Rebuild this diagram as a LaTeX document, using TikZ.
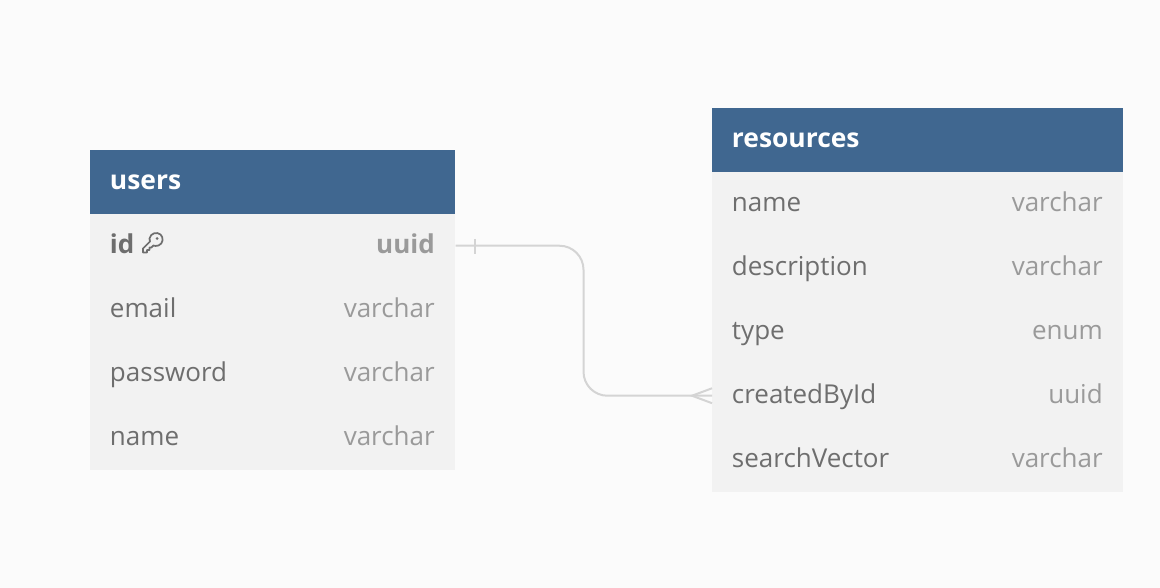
\documentclass[tikz,border=0pt]{standalone}
\usepackage{fontspec}
\setmainfont{Open Sans}
\definecolor{bgc}{HTML}{FBFBFB}
\definecolor{rowc}{HTML}{F2F2F2}
\definecolor{headc}{HTML}{406790}
\definecolor{namec}{HTML}{6E6E6E}
\definecolor{typec}{HTML}{9A9A9A}
\definecolor{linec}{HTML}{D4D4D4}
\newcommand{\bodysize}{\fontsize{19.5}{21}\selectfont}
\newcommand{\headsize}{\fontsize{19.8}{21}\selectfont}
\tikzset{
  x=0.75pt,y=-0.75pt,
  rowbox/.style={fill=rowc,draw=none,inner sep=0pt,minimum height=48pt,anchor=north west},
  headbox/.style={fill=headc,draw=none,inner sep=0pt,minimum height=48pt,anchor=north west},
  htext/.style={text=white,font=\headsize\bfseries,anchor=base west,inner sep=0pt},
  ntext/.style={text=namec,font=\bodysize,anchor=base west,inner sep=0pt},
  ttext/.style={text=typec,font=\bodysize,anchor=base east,inner sep=0pt},
  conn/.style={draw=linec,line width=1.5pt},
}
\begin{document}
\begin{tikzpicture}
\useasboundingbox[fill=bgc] (0,0) rectangle (1160,588);
% users
\node[headbox,minimum width=273.75pt] (uh) at (90,150) {};
\node[rowbox,minimum width=273.75pt] (u1) at (90,214) {};
\node[rowbox,minimum width=273.75pt] (u2) at (90,278) {};
\node[rowbox,minimum width=273.75pt] (u3) at (90,342) {};
\node[rowbox,minimum width=273.75pt] (u4) at (90,406) {};
\node[htext] (uht) at (109.7,189.6) {users};
\node[ntext,font=\bodysize\bfseries] (u1n) at (109.7,253) {id};
\node[ttext,font=\bodysize\bfseries] (u1t) at (435,253) {uuid};
\node[ntext] (u2n) at (109.7,317) {email};
\node[ttext] (u2t) at (435,317) {varchar};
\node[ntext] (u3n) at (109.7,381) {password};
\node[ttext] (u3t) at (435,381) {varchar};
\node[ntext] (u4n) at (109.7,445) {name};
\node[ttext] (u4t) at (435,445) {varchar};
% key icon
\draw[namec,line width=1.3pt,line join=round]
  (149.5,238.5) .. controls (150.5,233) and (157,231.5) .. (160.5,234.5)
  .. controls (164,237.5) and (163,244) .. (158.5,245.5)
  .. controls (156.5,246.2) and (154.5,246) .. (153.3,245.5)
  -- (151.5,247.5) -- (149.5,247.5) -- (149.5,250) -- (147,250) -- (147,252.5)
  -- (143,252.5) -- (143,248.5) -- (150,241.5)
  .. controls (149.5,240.5) and (149.3,239.5) .. (149.5,238.5) -- cycle;
\fill[namec] (157,238.5) circle (1.5);
% resources
\node[headbox,minimum width=308.25pt] (rh) at (712,108) {};
\node[rowbox,minimum width=308.25pt] (r1) at (712,172) {};
\node[rowbox,minimum width=308.25pt] (r2) at (712,236) {};
\node[rowbox,minimum width=308.25pt] (r3) at (712,300) {};
\node[rowbox,minimum width=308.25pt] (r4) at (712,364) {};
\node[rowbox,minimum width=308.25pt] (r5) at (712,428) {};
\node[htext] (rht) at (731.7,147.6) {resources};
\node[ntext] (r1n) at (731.7,211) {name};
\node[ttext] (r1t) at (1103,211) {varchar};
\node[ntext] (r2n) at (731.7,275) {description};
\node[ttext] (r2t) at (1103,275) {varchar};
\node[ntext] (r3n) at (731.7,339) {type};
\node[ttext] (r3t) at (1103,339) {enum};
\node[ntext] (r4n) at (731.7,403) {createdById};
\node[ttext] (r4t) at (1103,403) {uuid};
\node[ntext] (r5n) at (731.7,467) {searchVector};
\node[ttext] (r5t) at (1103,467) {varchar};
% connector
\coordinate (bend) at (583.5,320);
\draw[conn,rounded corners=18pt] ([yshift=0.4pt]u1.east) -| (bend) |- ([yshift=0.4pt]r4.west);
\draw[conn] ([xshift=14.25pt,yshift=5.6pt]u1.east) -- ([xshift=14.25pt,yshift=-5.6pt]u1.east);
\draw[conn] ([yshift=6pt]r4.west) -- ([xshift=-15pt,yshift=0.4pt]r4.west) -- ([yshift=-5.2pt]r4.west);
\end{tikzpicture}
\end{document}
